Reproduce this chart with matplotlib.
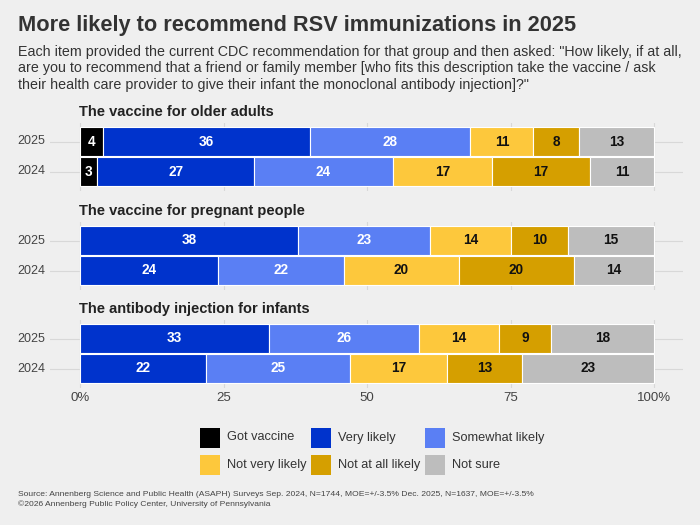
import matplotlib.pyplot as plt
from matplotlib.patches import Rectangle

# data
panels = ["The vaccine for older adults", "The vaccine for pregnant people",
          "The antibody injection for infants"]
years = ["2025", "2024"]
categories = ["Got vaccine", "Very likely", "Somewhat likely",
              "Not very likely", "Not at all likely", "Not sure"]
older_2025 = [4, 36, 28, 11, 8, 13]
older_2024 = [3, 27, 24, 17, 17, 11]
pregnant_2025 = [0, 38, 23, 14, 10, 15]
pregnant_2024 = [0, 24, 22, 20, 20, 14]
infants_2025 = [0, 33, 26, 14, 9, 18]
infants_2024 = [0, 22, 25, 17, 13, 23]
ticks = [0, 25, 50, 75, 100]
tick_labels = ["0%", "25", "50", "75", "100%"]

colors = ["#000000", "#0033cc", "#5a7ff4", "#fdc83c", "#d59f00", "#bdbdbd"]
text_colors = ["white", "white", "white", "#111111", "#111111", "#111111"]
bg = "#efefef"

plt.rcParams["font.family"] = ["Liberation Sans", "DejaVu Sans"]

W, H = 700, 525
fig = plt.figure(figsize=(7, 5.25), dpi=100, facecolor=bg)

# overlay axes in pixel coordinates for the free text and legend
ov = fig.add_axes([0, 0, 1, 1])
ov.set_xlim(0, W)
ov.set_ylim(H, 0)
ov.axis("off")

ov.text(18, 26, "More likely to recommend RSV immunizations in 2025",
        fontsize=15.7, fontweight="bold", color="#333333", va="center")
subtitle = ("Each item provided the current CDC recommendation for that group and then asked: \"How likely, if at all,\n"
            "are you to recommend that a friend or family member [who fits this description take the vaccine / ask\n"
            "their health care provider to give their infant the monoclonal antibody injection]?\"")
ov.text(18, 45, subtitle, fontsize=10.3, color="#333333", va="top", linespacing=1.22)

data = [(older_2025, older_2024), (pregnant_2025, pregnant_2024), (infants_2025, infants_2024)]
centers = [141.5, 240.5, 338.5]  # pixel y of 2025 row in each panel
x0_px, x1_px = 80, 654
left_px, right_px = 50, 683
row_px = 30
pad_px = 19

def xdata(px):
    return (px - x0_px) / (x1_px - x0_px) * 100

for title, (v25, v24), c in zip(panels, data, centers):
    top = c - pad_px
    bottom = c + row_px + pad_px
    ax = fig.add_axes([left_px / W, 1 - bottom / H, (right_px - left_px) / W, (bottom - top) / H])
    ax.set_facecolor("none")
    ax.set_xlim(xdata(left_px), xdata(right_px))
    ax.set_ylim(-pad_px / row_px, 1 + pad_px / row_px)
    for s in ax.spines.values():
        s.set_visible(False)
    ax.set_xticks([])
    ax.set_yticks([])
    for t in ticks:
        ax.axvline(t, color="#d8d8d8", lw=0.8, zorder=0)
    for ypos in (0, 1):
        ax.axhline(ypos, color="#d8d8d8", lw=0.8, zorder=0)

    for ypos, vals in zip((1, 0), (v25, v24)):
        total = sum(vals)
        start = 0
        for v, col, tc in zip(vals, colors, text_colors):
            if v == 0:
                continue
            w = v / total * 100
            ax.barh(ypos, w, left=start, height=0.96, color=col, edgecolor="white",
                    linewidth=0.8, zorder=2)
            ax.text(start + w / 2, ypos, str(v), ha="center", va="center",
                    color=tc, fontsize=9.8, fontweight="bold", zorder=3)
            start += w

    ov.text(x0_px - 1, c - 30, title, fontsize=10.5, fontweight="bold", color="#222222", va="center")
    for yr, ypx in zip(years, (c, c + row_px)):
        ov.text(45, ypx, yr, fontsize=9, color="#444444", ha="right", va="center")

for t, lab in zip(ticks, tick_labels):
    ov.text(x0_px + t / 100 * (x1_px - x0_px), 398, lab, fontsize=9.5, color="#444444",
            ha="center", va="center")

# legend, 3 per row
leg_x = [200, 311, 425]
leg_y = [437.5, 465]
for i, (cat, col) in enumerate(zip(categories, colors)):
    lx = leg_x[i % 3]
    ly = leg_y[i // 3]
    ov.add_patch(Rectangle((lx, ly - 10), 20, 20, facecolor=col, edgecolor="none"))
    ov.text(lx + 27, ly, cat, fontsize=9.2, color="#333333", va="center")

ov.text(18, 494, "Source: Annenberg Science and Public Health (ASAPH) Surveys Sep. 2024, N=1744, MOE=+/-3.5% Dec. 2025, N=1637, MOE=+/-3.5%",
        fontsize=6.1, color="#444444", va="center")
ov.text(18, 504, "\u00a92026 Annenberg Public Policy Center, University of Pennsylvania",
        fontsize=6.1, color="#444444", va="center")

fig.savefig("out.png", dpi=100, facecolor=bg)
